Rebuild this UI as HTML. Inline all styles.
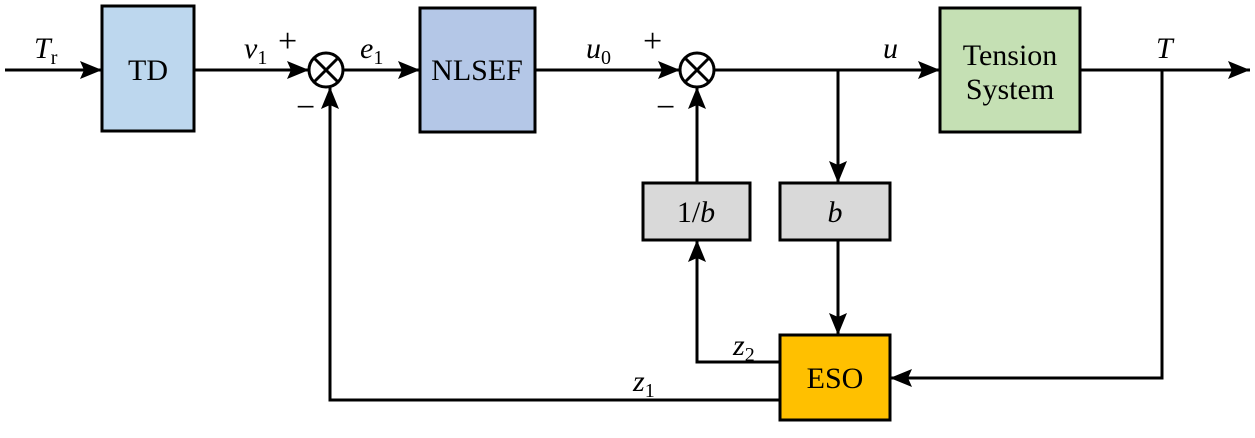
<!DOCTYPE html>
<html><head><meta charset="utf-8"><style>body{margin:0;background:#fff} svg, svg text, svg tspan{font-family:"Liberation Serif","DejaVu Serif",serif !important}</style></head><body>
<svg width="1255" height="433" viewBox="0 0 1255 433" xmlns="http://www.w3.org/2000/svg" style="font-family:'Liberation Serif','DejaVu Serif',serif">
<defs>
<marker id="b" viewBox="0 0 22 18" markerWidth="22" markerHeight="18" refX="22" refY="9" orient="auto" markerUnits="userSpaceOnUse"><path d="M0,0 L22,9 L0,18 L4,9 Z" fill="#000"/></marker></defs>
<g stroke="#000" stroke-width="3" fill="none">
<line x1="5" y1="70" x2="102" y2="70" marker-end="url(#b)"/>
<line x1="194" y1="70" x2="309" y2="70" marker-end="url(#b)"/>
<line x1="343" y1="70" x2="420" y2="70" marker-end="url(#b)"/>
<line x1="535" y1="70" x2="680" y2="70" marker-end="url(#b)"/>
<line x1="714" y1="70" x2="940" y2="70" marker-end="url(#b)"/>
<line x1="1080" y1="70" x2="1250" y2="70" marker-end="url(#b)"/>
<line x1="838" y1="70" x2="838" y2="183" marker-end="url(#b)"/>
<line x1="838" y1="240" x2="838" y2="335" marker-end="url(#b)"/>
<line x1="697" y1="183" x2="697" y2="87" marker-end="url(#b)"/>
<polyline points="780,362 697,362 697,240" marker-end="url(#b)"/>
<polyline points="780,400 330,400 330,87" marker-end="url(#b)"/>
<polyline points="1162,70 1162,378 890,378" marker-end="url(#b)"/>
<circle cx="326" cy="70" r="17" fill="#fff"/>
<line x1="314" y1="58" x2="338" y2="82"/><line x1="338" y1="58" x2="314" y2="82"/>
<circle cx="697" cy="70" r="17" fill="#fff"/>
<line x1="685" y1="58" x2="709" y2="82"/><line x1="709" y1="58" x2="685" y2="82"/>
<rect x="102" y="6" width="92" height="125" fill="#bdd7ee"/>
<rect x="420" y="8" width="115" height="124" fill="#b4c7e7"/>
<rect x="940" y="8" width="140" height="124" fill="#c5e0b4"/>
<rect x="643" y="183" width="107" height="57" fill="#d9d9d9"/>
<rect x="780" y="183" width="110" height="57" fill="#d9d9d9"/>
<rect x="780" y="335" width="110" height="85" fill="#ffc000"/>
</g>
<g font-size="30" fill="#000" text-anchor="middle">
<text x="148" y="80">TD</text>
<text x="477" y="80">NLSEF</text>
<text x="1010" y="65">Tension</text>
<text x="1010" y="99">System</text>
<text x="696" y="222">1/<tspan font-style="italic">b</tspan></text>
<text x="835" y="222" font-style="italic">b</text>
<text x="835" y="388">ESO</text>
</g>
<g font-size="30" fill="#000">
<text x="34" y="58" font-style="italic">T<tspan font-style="normal" font-size="20" dy="6">r</tspan></text>
<text x="244" y="58" font-style="italic">v<tspan font-style="normal" font-size="20" dy="6">1</tspan></text>
<text x="278" y="52" font-size="34">+</text>
<text x="296" y="118" font-size="34">−</text>
<text x="360" y="58" font-style="italic">e<tspan font-style="normal" font-size="20" dy="6">1</tspan></text>
<text x="586" y="58" font-style="italic">u<tspan font-style="normal" font-size="20" dy="6">0</tspan></text>
<text x="643" y="52" font-size="34">+</text>
<text x="656" y="118" font-size="34">−</text>
<text x="883" y="58" font-style="italic">u</text>
<text x="1156" y="58" font-style="italic">T</text>
<text x="733" y="355" font-style="italic">z<tspan font-style="normal" font-size="20" dy="6">2</tspan></text>
<text x="633" y="391" font-style="italic">z<tspan font-style="normal" font-size="20" dy="6">1</tspan></text>
</g>
</svg>
</body></html>
